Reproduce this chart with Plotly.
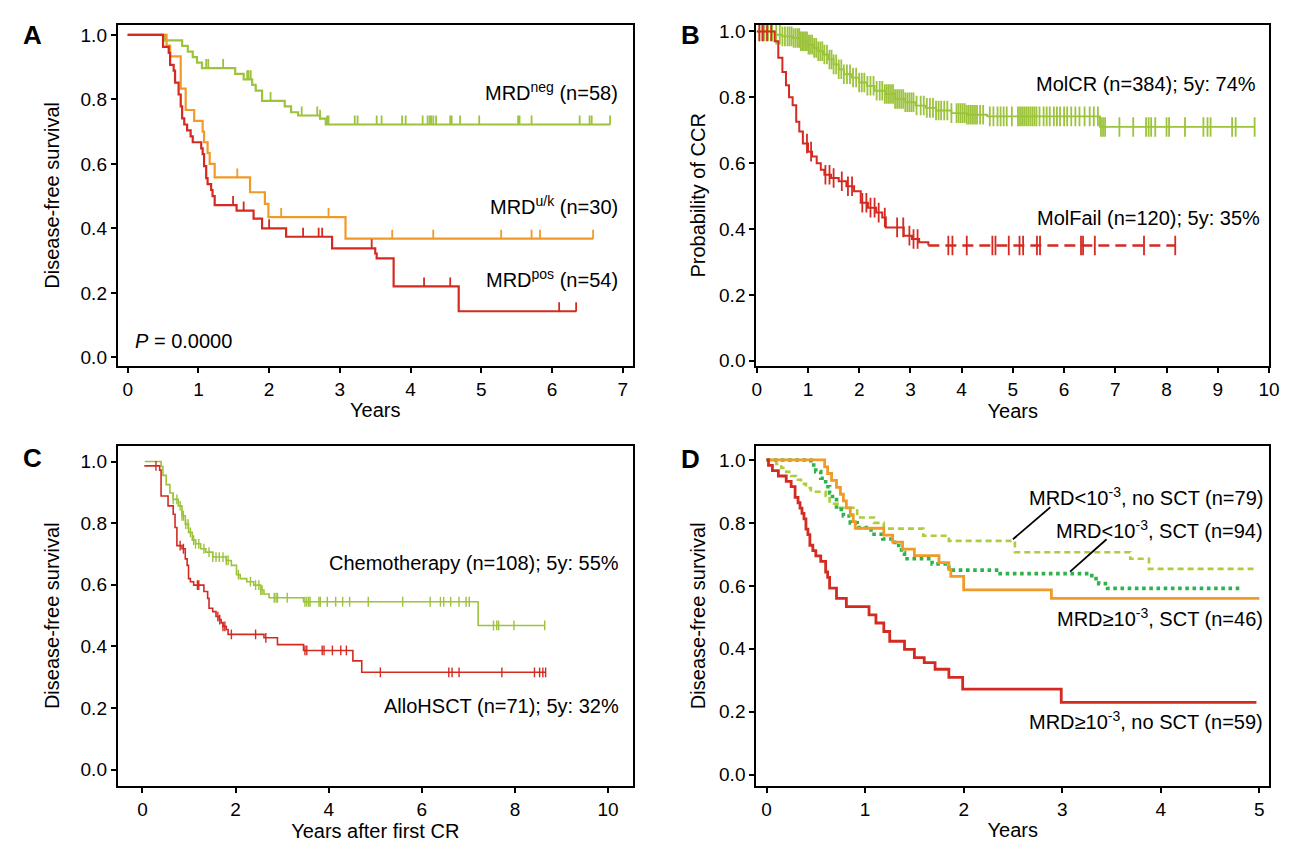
import numpy as np
import plotly.graph_objects as go

FONT = "Liberation Sans, Arial, Helvetica, sans-serif"
GREEN = "#9cc33b"
ORANGE = "#f09a28"
RED = "#d42a22"
BGREEN = "#2fb24c"
YGREEN = "#abcd3e"

# ---------------- Panel A ----------------
a_neg_t = [0, 0.53, 0.77, 0.85, 0.92, 0.98, 1.05, 1.52, 1.64, 1.76, 1.81, 1.9, 2.22, 2.31, 2.41, 2.72, 2.8]
a_neg_s = [1.0, 0.983, 0.966, 0.948, 0.931, 0.914, 0.897, 0.879, 0.862, 0.845, 0.827, 0.795, 0.778, 0.76, 0.75, 0.74, 0.722]
a_neg_end = 6.82
a_neg_cens = [1.11, 1.14, 1.35, 1.69, 1.71, 1.74, 2.02, 2.46, 2.68, 2.72, 2.82, 2.84, 3.21, 3.25, 3.52, 3.59,
              3.88, 3.93, 4.17, 4.24, 4.27, 4.29, 4.32, 4.36, 4.56, 4.58, 4.7, 4.97, 5.52, 5.54, 5.71, 6.39,
              6.53, 6.56, 6.82]

a_uk_t = [0, 0.55, 0.6, 0.75, 0.82, 0.94, 1.06, 1.08, 1.13, 1.16, 1.23, 1.73, 1.94, 1.99, 3.08]
a_uk_s = [1.0, 0.967, 0.933, 0.833, 0.767, 0.733, 0.7, 0.667, 0.633, 0.6, 0.558, 0.512, 0.476, 0.435, 0.368]
a_uk_end = 6.58
a_uk_cens = [1.55, 1.94, 2.17, 2.84, 3.74, 4.32, 5.28, 5.71, 5.83, 6.58]

a_pos_t = [0, 0.5, 0.58, 0.6, 0.65, 0.67, 0.72, 0.75, 0.77, 0.8, 0.84, 0.89, 0.92, 1.04, 1.06, 1.08, 1.11,
           1.13, 1.18, 1.2, 1.23, 1.54, 1.78, 1.9, 2.24, 2.89, 3.5, 3.52, 3.76, 4.68]
a_pos_s = [1.0, 0.963, 0.944, 0.907, 0.889, 0.852, 0.815, 0.778, 0.741, 0.722, 0.704, 0.685, 0.667, 0.648,
           0.63, 0.593, 0.556, 0.537, 0.519, 0.5, 0.472, 0.455, 0.43, 0.4, 0.374, 0.338, 0.322, 0.307, 0.22, 0.143]
a_pos_end = 6.34
a_pos_cens = [1.49, 1.64, 2.0, 2.48, 2.7, 2.75, 3.45, 4.19, 4.56, 6.1, 6.34]

# ---------------- Panel B ----------------
b_cr_t = [0, 0.35, 0.5, 0.7, 0.85, 1.0, 1.1, 1.2, 1.3, 1.4, 1.5, 1.6, 1.7, 1.85, 2.0, 2.15, 2.3, 2.5, 2.7,
          2.9, 3.1, 3.3, 3.5, 3.8, 4.1, 4.5, 6.7]
b_cr_s = [1.0, 0.99, 0.985, 0.98, 0.97, 0.96, 0.95, 0.94, 0.93, 0.915, 0.9, 0.885, 0.87, 0.86, 0.845, 0.835,
          0.82, 0.81, 0.795, 0.785, 0.775, 0.768, 0.76, 0.752, 0.747, 0.742, 0.71]
b_cr_end = 9.72
b_cr_cens = [0.05, 0.1, 0.15, 0.22, 0.3, 0.38, 0.45, 0.5, 0.55, 0.6, 0.64, 0.68, 0.72, 0.76, 0.8, 0.83, 0.86,
             0.89, 0.92, 0.95, 0.98, 1.01, 1.04, 1.08, 1.12, 1.16, 1.2, 1.24, 1.28, 1.32, 1.37, 1.42, 1.46,
             1.5, 1.55, 1.6, 1.65, 1.7, 1.76, 1.82, 1.88, 1.94, 2.0, 2.05, 2.1, 2.16, 2.22, 2.28, 2.34, 2.4,
             2.45, 2.5, 2.54, 2.58, 2.62, 2.66, 2.7, 2.74, 2.78, 2.82, 2.86, 2.9, 2.94, 2.98, 3.02, 3.06,
             3.12, 3.2, 3.26, 3.32, 3.38, 3.44, 3.5, 3.55, 3.6, 3.66, 3.72, 3.8, 3.9, 3.94, 3.98, 4.02, 4.06,
             4.1, 4.14, 4.18, 4.22, 4.26, 4.3, 4.36, 4.42, 4.55, 4.62, 4.7, 4.76, 4.82, 4.88, 4.98, 5.1,
             5.14, 5.18, 5.22, 5.26, 5.3, 5.34, 5.38, 5.42, 5.46, 5.52, 5.6, 5.66, 5.72, 5.8, 5.86, 5.92,
             6.0, 6.06, 6.14, 6.22, 6.3, 6.4, 6.5, 6.58, 6.66, 6.72, 6.76, 6.8, 7.08, 7.35, 7.6, 7.65, 7.7,
             7.78, 8.0, 8.05, 8.36, 8.72, 8.8, 8.86, 9.28, 9.35, 9.72]

b_fail_t = [0, 0.35, 0.42, 0.5, 0.57, 0.63, 0.7, 0.77, 0.83, 0.9, 1.0, 1.08, 1.17, 1.25, 1.32, 1.45, 1.6,
            1.75, 1.9, 2.03, 2.17, 2.33, 2.45, 2.52, 2.87, 3.03, 3.17, 3.35]
b_fail_s = [1.0, 0.97, 0.92, 0.877, 0.837, 0.8, 0.776, 0.726, 0.696, 0.66, 0.635, 0.62, 0.6, 0.58, 0.565,
            0.555, 0.545, 0.53, 0.515, 0.48, 0.465, 0.45, 0.435, 0.405, 0.38, 0.37, 0.36, 0.35]
b_fail_end = 8.17
b_fail_cens = [0.05, 0.12, 0.2, 0.28, 0.98, 1.06, 1.34, 1.42, 1.5, 1.66, 1.78, 1.86, 2.06, 2.14, 2.22, 2.3,
               2.38, 2.5, 2.74, 2.86, 2.98, 3.06, 3.14, 3.74, 3.82, 4.1, 4.6, 4.66, 4.92, 5.13, 5.2, 5.47,
               5.53, 6.33, 6.37, 6.6, 7.56, 8.17]

# ---------------- Panel C ----------------
c_chemo_t = [0.05, 0.4, 0.44, 0.51, 0.59, 0.66, 0.77, 0.85, 0.92, 0.99, 1.07, 1.14, 1.25, 1.36, 1.51, 1.8,
             1.91, 2.02, 2.1, 2.24, 2.39, 2.54, 2.61, 2.72, 3.46, 7.21]
c_chemo_s = [1.0, 0.984, 0.955, 0.925, 0.898, 0.877, 0.856, 0.824, 0.797, 0.77, 0.745, 0.733, 0.717, 0.706,
             0.69, 0.679, 0.663, 0.633, 0.62, 0.61, 0.599, 0.583, 0.57, 0.558, 0.545, 0.468]
c_chemo_end = 8.64
c_chemo_cens = [0.66, 0.74, 0.81, 0.85, 0.88, 0.93, 0.98, 1.03, 1.1, 1.14, 1.21, 1.32, 1.43, 1.51, 1.58,
                1.65, 1.73, 1.8, 1.84, 2.06, 2.32, 2.43, 2.5, 2.54, 2.57, 2.83, 2.87, 2.9, 3.11, 3.49, 3.53,
                3.57, 3.6, 3.79, 3.82, 3.97, 4.15, 4.3, 4.45, 4.85, 5.59, 6.18, 6.4, 6.47, 6.62, 6.8, 6.95,
                7.02, 7.54, 7.61, 7.65, 7.98, 8.64]

c_allo_t = [0.04, 0.37, 0.4, 0.55, 0.66, 0.7, 0.74, 0.85, 0.92, 0.96, 0.99, 1.03, 1.1, 1.32, 1.4, 1.43,
            1.51, 1.58, 1.65, 1.69, 1.73, 1.8, 1.84, 2.61, 2.9, 3.46, 4.52, 4.71]
c_allo_s = [0.986, 0.972, 0.888, 0.856, 0.829, 0.786, 0.727, 0.717, 0.684, 0.663, 0.62, 0.61, 0.599, 0.578,
            0.556, 0.524, 0.513, 0.497, 0.487, 0.476, 0.465, 0.455, 0.439, 0.428, 0.406, 0.387, 0.353, 0.316]
c_allo_end = 8.66
c_allo_cens = [0.29, 0.81, 0.88, 1.18, 1.21, 1.62, 1.66, 1.73, 1.77, 1.91, 2.43, 2.65, 3.49, 3.53, 3.86,
               3.9, 4.08, 4.26, 4.38, 5.11, 6.58, 6.65, 6.8, 7.72, 8.42, 8.53, 8.6, 8.66]

# ---------------- Panel D ----------------
d_hi_no_t = [0, 0.02, 0.06, 0.12, 0.2, 0.25, 0.29, 0.32, 0.34, 0.36, 0.38, 0.4, 0.42, 0.44, 0.47, 0.5, 0.55,
             0.6, 0.62, 0.64, 0.71, 0.81, 1.04, 1.11, 1.19, 1.25, 1.4, 1.5, 1.6, 1.71, 1.85, 1.99, 2.99]
d_hi_no_s = [1.0, 0.983, 0.966, 0.949, 0.932, 0.915, 0.881, 0.864, 0.847, 0.83, 0.813, 0.78, 0.763, 0.729,
             0.712, 0.695, 0.678, 0.644, 0.627, 0.593, 0.56, 0.534, 0.508, 0.482, 0.455, 0.424, 0.398, 0.372,
             0.356, 0.335, 0.309, 0.272, 0.23]
d_hi_no_end = 4.97

d_hi_sct_t = [0, 0.59, 0.62, 0.66, 0.71, 0.75, 0.78, 0.81, 0.85, 0.88, 0.9, 1.19, 1.28, 1.38, 1.5, 1.75,
              1.85, 1.87, 2.0, 2.89]
d_hi_sct_s = [1.0, 0.978, 0.957, 0.935, 0.913, 0.891, 0.87, 0.848, 0.826, 0.804, 0.783, 0.761, 0.739, 0.717,
              0.696, 0.674, 0.652, 0.63, 0.587, 0.56]
d_hi_sct_end = 5.0

d_lo_sct_t = [0, 0.45, 0.5, 0.55, 0.6, 0.64, 0.67, 0.71, 0.78, 0.85, 0.92, 1.06, 1.18, 1.3, 1.37, 1.4, 1.68,
              1.85, 2.37, 3.3, 3.37, 3.46]
d_lo_sct_s = [1.0, 0.984, 0.963, 0.942, 0.915, 0.895, 0.874, 0.843, 0.822, 0.8, 0.785, 0.764, 0.749, 0.728,
              0.706, 0.686, 0.67, 0.65, 0.639, 0.623, 0.607, 0.592]
d_lo_sct_end = 4.83

d_lo_no_t = [0, 0.1, 0.15, 0.2, 0.25, 0.3, 0.35, 0.4, 0.45, 0.6, 0.64, 0.72, 0.92, 1.09, 1.19, 1.59, 1.85,
             2.52, 3.69, 3.88]
d_lo_no_s = [1.0, 0.987, 0.975, 0.962, 0.949, 0.937, 0.924, 0.911, 0.899, 0.886, 0.861, 0.848, 0.817, 0.8,
             0.782, 0.759, 0.743, 0.707, 0.686, 0.654]
d_lo_no_end = 4.97

# leader lines in panel D: (x0, y0, x1, y1) from label to curve
d_leaders = [(2.88, 0.85, 2.5, 0.748), (3.45, 0.748, 3.08, 0.645)]


def km_xy(times, vals, end):
    return list(times) + [end], list(vals) + [vals[-1]]


def surv_at(times, vals, cens):
    idx = np.searchsorted(np.asarray(times), np.asarray(cens), side="right") - 1
    return np.asarray(vals)[idx]


fig = go.Figure()


def add_curve(times, vals, end, color, width, xa, ya, dash="solid"):
    x, y = km_xy(times, vals, end)
    fig.add_trace(go.Scatter(x=x, y=y, mode="lines", line=dict(color=color, width=width, shape="hv", dash=dash),
                             xaxis=xa, yaxis=ya, hoverinfo="skip", showlegend=False))


def add_up_ticks(times, vals, cens, color, xa, ya, h=0.028, th=1.8):
    fig.add_trace(go.Scatter(x=cens, y=surv_at(times, vals, cens), mode="markers",
                             marker=dict(size=1, color=color),
                             error_y=dict(type="constant", value=h, symmetric=False, valueminus=0,
                                          width=0, thickness=th, color=color),
                             xaxis=xa, yaxis=ya, hoverinfo="skip", showlegend=False))


def add_cross(times, vals, cens, color, xa, ya, size, lw):
    fig.add_trace(go.Scatter(x=cens, y=surv_at(times, vals, cens), mode="markers",
                             marker=dict(symbol="line-ns", size=size, line=dict(color=color, width=lw)),
                             xaxis=xa, yaxis=ya, hoverinfo="skip", showlegend=False))


# Panel A
add_curve(a_neg_t, a_neg_s, a_neg_end, GREEN, 2.2, "x", "y")
add_up_ticks(a_neg_t, a_neg_s, a_neg_cens, GREEN, "x", "y")
add_curve(a_uk_t, a_uk_s, a_uk_end, ORANGE, 2.2, "x", "y")
add_up_ticks(a_uk_t, a_uk_s, a_uk_cens, ORANGE, "x", "y")
add_curve(a_pos_t, a_pos_s, a_pos_end, RED, 2.2, "x", "y")
add_up_ticks(a_pos_t, a_pos_s, a_pos_cens, RED, "x", "y")

# Panel B
add_curve(b_cr_t, b_cr_s, b_cr_end, GREEN, 1.8, "x2", "y2")
add_cross(b_cr_t, b_cr_s, b_cr_cens, GREEN, "x2", "y2", 14, 1.8)
add_curve(b_fail_t, b_fail_s, b_fail_t[-1], RED, 2.0, "x2", "y2")
fig.add_trace(go.Scatter(x=[b_fail_t[-1], b_fail_end], y=[b_fail_s[-1], b_fail_s[-1]], mode="lines",
                         line=dict(color=RED, width=2.6, dash="11px,6px"), xaxis="x2", yaxis="y2",
                         hoverinfo="skip", showlegend=False))
add_cross(b_fail_t, b_fail_s, b_fail_cens, RED, "x2", "y2", 14, 1.8)

# Panel C
add_curve(c_chemo_t, c_chemo_s, c_chemo_end, GREEN, 1.6, "x3", "y3")
add_cross(c_chemo_t, c_chemo_s, c_chemo_cens, GREEN, "x3", "y3", 7, 1.4)
add_curve(c_allo_t, c_allo_s, c_allo_end, RED, 1.6, "x3", "y3")
add_cross(c_allo_t, c_allo_s, c_allo_cens, RED, "x3", "y3", 7, 1.4)

# Panel D
add_curve(d_lo_no_t, d_lo_no_s, d_lo_no_end, YGREEN, 2.6, "x4", "y4", dash="6px,4px")
add_curve(d_lo_sct_t, d_lo_sct_s, d_lo_sct_end, BGREEN, 3.6, "x4", "y4", dash="dot")
add_curve(d_hi_sct_t, d_hi_sct_s, d_hi_sct_end, ORANGE, 2.8, "x4", "y4")
add_curve(d_hi_no_t, d_hi_no_s, d_hi_no_end, RED, 2.8, "x4", "y4")

W, H = 1291, 844
colA = [106 / W, 627 / W]
colB = [752 / W, 1271 / W]
rowT = [1 - 358 / H, 1 - 13 / H]
rowB = [1 - 783 / H, 1 - 439 / H]

tickfont = dict(family=FONT, size=19, color="black")
titlefont = dict(family=FONT, size=20, color="black")


def xax(domain, rng, dtick, title, anchor):
    return dict(domain=domain, range=rng, dtick=dtick, tick0=0, anchor=anchor, showline=True,
                linecolor="black", linewidth=2, mirror=True, ticks="outside", ticklen=5, tickwidth=2,
                tickcolor="black", showgrid=False, zeroline=False, tickfont=tickfont,
                title=dict(text=title, font=titlefont, standoff=4))


def yax(domain, rng, title, anchor, standoff):
    return dict(domain=domain, range=rng, dtick=0.2, tick0=0, tickformat=".1f", anchor=anchor,
                showline=True, linecolor="black", linewidth=2, mirror=True, ticks="outside", ticklen=5,
                tickwidth=2, tickcolor="black", showgrid=False, zeroline=False, tickfont=tickfont,
                title=dict(text=title, font=titlefont, standoff=standoff))


fig.update_layout(
    width=W, height=H, margin=dict(l=0, r=0, t=0, b=0),
    paper_bgcolor="white", plot_bgcolor="white", font=dict(family=FONT, color="black"),
    xaxis=xax(colA, [-0.14, 7.14], 1, "Years", "y"),
    yaxis=yax(rowT, [-0.026, 1.031], "Disease-free survival", "x", 16),
    xaxis2=xax(colB, [-0.01, 10.005], 1, "Years", "y2"),
    yaxis2=yax(rowT, [-0.015, 1.02], "Probability of CCR", "x2", 8),
    xaxis3=xax(colA, [-0.53, 10.53], 2, "Years after first CR", "y3"),
    yaxis3=yax(rowB, [-0.052, 1.051], "Disease-free survival", "x3", 16),
    xaxis4=xax(colB, [-0.104, 5.10], 1, "Years", "y4"),
    yaxis4=yax(rowB, [-0.035, 1.045], "Disease-free survival", "x4", 8),
)

ann = []


def label(text, xref, yref, x, y, xanchor="right", size=20):
    ann.append(dict(text=text, xref=xref, yref=yref, x=x, y=y, xanchor=xanchor, yanchor="middle",
                    showarrow=False, font=dict(family=FONT, size=size, color="black")))


label("MRD<sup>neg</sup> (n=58)", "x domain", "y", 0.975, 0.825)
label("MRD<sup>u/k</sup> (n=30)", "x domain", "y", 0.975, 0.47)
label("MRD<sup>pos</sup> (n=54)", "x domain", "y", 0.975, 0.245)
label("<i>P</i> = 0.0000", "x", "y", 0.08, 0.05, xanchor="left")
label("MolCR (n=384); 5y: 74%", "x2 domain", "y2", 0.979, 0.84)
label("MolFail (n=120); 5y: 35%", "x2 domain", "y2", 0.985, 0.433)
label("Chemotherapy (n=108); 5y: 55%", "x3 domain", "y3", 0.977, 0.672)
label("AlloHSCT (n=71); 5y: 32%", "x3 domain", "y3", 0.977, 0.207)
label("MRD&lt;10<sup>-3</sup>, no SCT (n=79)", "x4 domain", "y4", 0.992, 0.885)
label("MRD&lt;10<sup>-3</sup>, SCT (n=94)", "x4 domain", "y4", 0.992, 0.78)
label("MRD≥10<sup>-3</sup>, SCT (n=46)", "x4 domain", "y4", 0.992, 0.498)
label("MRD≥10<sup>-3</sup>, no SCT (n=59)", "x4 domain", "y4", 0.992, 0.172)

for letter, px, py in [("A", 20, 23), ("B", 685, 23), ("C", 20, 451), ("D", 685, 452)]:
    ann.append(dict(text="<b>" + letter + "</b>", xref="paper", yref="paper", x=px / W, y=1 - py / H,
                    xanchor="center", yanchor="middle", showarrow=False,
                    font=dict(family=FONT, size=26, color="black")))

fig.update_layout(annotations=ann)

for x0, y0, x1, y1 in d_leaders:
    fig.add_shape(type="line", xref="x4", yref="y4", x0=x0, y0=y0, x1=x1, y1=y1,
                  line=dict(color="black", width=1.8))

fig.write_html("out.html")
